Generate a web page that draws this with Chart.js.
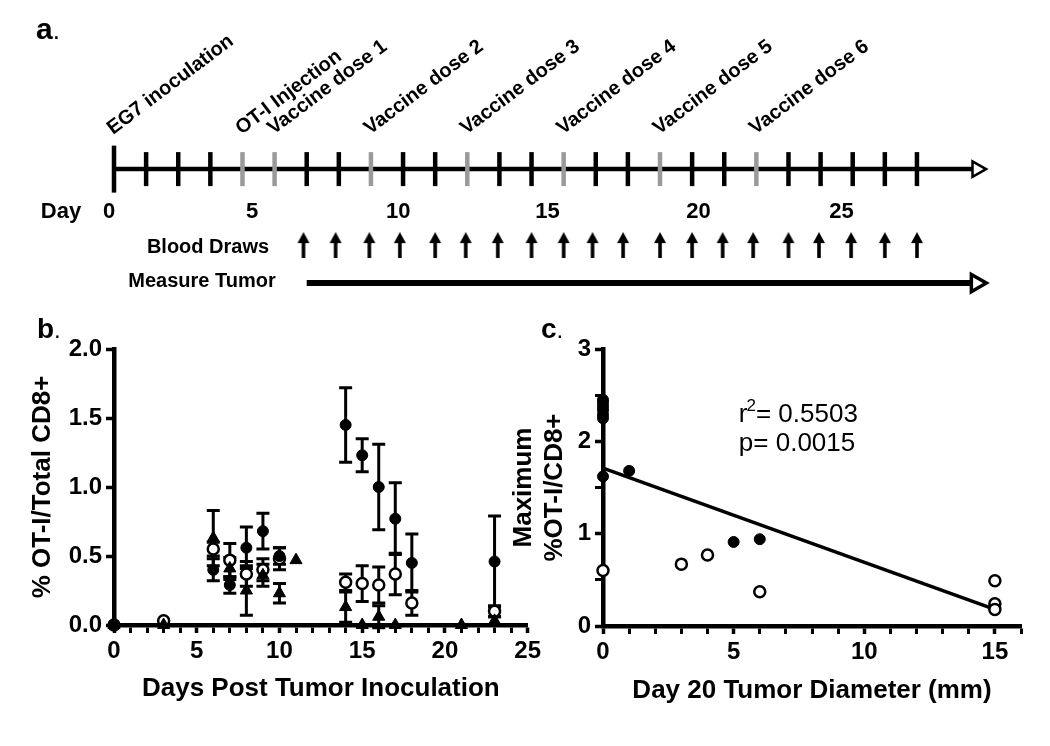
<!DOCTYPE html>
<html lang="en">
<head>
<meta charset="UTF-8" />
<title>OT-I expansion after vaccination</title>
<script src="https://cdn.jsdelivr.net/npm/chart.js"></script>
<style>
  body { margin: 0; background: #fff; }
  .fig { position: relative; width: 1050px; height: 746px; overflow: hidden; }
  .fig div { position: absolute; }
  #wrapA { left: 0; top: 0; }
  #wrapB { left: 0; top: 300px; }
  #wrapC { left: 500px; top: 300px; }
</style>
</head>
<body>
<div class="fig">
  <div id="wrapA"><canvas id="chartA" width="1050" height="304"></canvas></div>
  <div id="wrapB"><canvas id="chartB" width="545" height="446"></canvas></div>
  <div id="wrapC"><canvas id="chartC" width="550" height="446"></canvas></div>
</div>
<script>
// ---- panel a : timeline (x = schematic slot on the time line) ----
const blackTickSlots = [1, 2, 3, 6, 7, 9, 10, 12, 13, 15, 16, 18, 19, 21, 22, 23, 24, 25];
const grayTickSlots = [4, 5, 8, 11, 14, 17, 20];
const startSlot = 0;
const timelineEnd = 27.15;
const eventNames = ['EG7 inoculation', 'OT-I Injection', 'Vaccine dose 1', 'Vaccine dose 2',
  'Vaccine dose 3', 'Vaccine dose 4', 'Vaccine dose 5', 'Vaccine dose 6'];
const eventSlots = [0, 4, 5, 8, 11, 14, 17, 20];
const dayLabels = ['0', '5', '10', '15', '20', '25'];
const dayLabelSlots = [-0.15, 4.3, 8.85, 13.5, 18.2, 22.65];
const bloodDrawSlots = [5.9, 6.9, 7.95, 8.9, 10, 10.95, 11.95, 13, 14, 14.9, 15.85, 17, 18, 18.95, 19.9, 21, 21.95, 22.95, 24, 25];
const tumorStart = 6;
// rows of the timeline panel
const ROW_LINE = 0, ROW_DAY = -1.13, ROW_BLOOD = -2, ROW_TUMOR = -3;

// ---- panel b : % OT-I / total CD8+ over time ----
const filledDays = [0, 6, 7, 8, 9, 10, 14, 15, 16, 17, 18, 23];
const filledMean = [0, 0.40, 0.29, 0.56, 0.68, 0.50, 1.45, 1.23, 1.00, 0.77, 0.45, 0.46];
const filledSem  = [0, 0.08, 0.06, 0.15, 0.13, 0.06, 0.27, 0.12, 0.31, 0.26, 0.21, 0.33];

const openDays = [0, 3, 6, 7, 8, 9, 10, 14, 15, 16, 17, 18, 23];
const openMean = [0, 0.03, 0.55, 0.47, 0.37, 0.40, 0.48, 0.31, 0.30, 0.29, 0.37, 0.16, 0.10];
const openSem  = [0, 0, 0.05, 0.12, 0.09, 0.08, 0.08, 0.06, 0.13, 0.13, 0.15, 0.09, 0.04];

const triDays = [0, 3, 6, 7, 8, 9, 10, 11, 14, 15, 16, 17, 21, 23];
const triMean = [0, 0, 0.63, 0.41, 0.25, 0.36, 0.23, 0.47, 0.13, 0, 0.06, 0, 0, 0.03];
const triSem  = [0, 0, 0.20, 0.08, 0.18, 0.08, 0.07, 0, 0.11, 0, 0.08, 0, 0, 0.03];

const bXTicks = [0,1,2,3,4,5,6,7,8,9,10,11,12,13,14,15,16,17,18,19,20,21,22,23,24,25];
const bYTicks = [0, 0.5, 1, 1.5, 2];

// ---- panel c : maximum % OT-I vs day 20 tumour diameter ----
const cFilledX = [0, 0, 0, 0, 0, 0, 0, 1, 5, 6];
const cFilledY = [2.45, 2.42, 2.38, 2.34, 2.29, 2.25, 1.62, 1.68, 0.91, 0.94];
const cOpenX = [0, 3, 4, 6, 15, 15, 15];
const cOpenY = [0.60, 0.67, 0.77, 0.37, 0.49, 0.24, 0.18];
const fitX = [0, 15];
const fitY = [1.71, 0.18];
const rSquared = '0.5503';
const pValue = '0.0015';
const cXTicks = [0,1,2,3,4,5,6,7,8,9,10,11,12,13,14,15,16];
const cYTicks = [0, 0.5, 1, 1.5, 2, 2.5, 3];

const FONT = '"Liberation Sans", Arial, Helvetica, sans-serif';
Chart.defaults.font.family = FONT;
Chart.defaults.color = '#000';
Chart.defaults.animation = false;

function pts(xs, ys) {
  return xs.map((x, i) => ({ x: x, y: ys[i] }));
}
function rowPts(xs, row) {
  return xs.map(x => ({ x: x, y: row }));
}

// small upward arrow used as point style for blood draws
function makeArrow() {
  const c = document.createElement('canvas');
  c.width = 14; c.height = 26;
  const g = c.getContext('2d');
  g.fillStyle = '#000';
  g.beginPath();
  g.moveTo(7, 0); g.lineTo(13, 11); g.lineTo(1, 11);
  g.closePath(); g.fill();
  g.fillRect(5.2, 9, 3.6, 17);
  return c;
}

// ---------- panel a ----------
const timelineText = {
  id: 'timelineText',
  afterDraw(chart) {
    const ctx = chart.ctx;
    const x = chart.scales.x, y = chart.scales.y;
    ctx.save();
    ctx.fillStyle = '#000';
    // panel letter
    ctx.textBaseline = 'alphabetic';
    ctx.textAlign = 'left';
    ctx.font = 'bold 30px ' + FONT;
    ctx.fillText('a', 36, 39);
    const aw = ctx.measureText('a').width;
    ctx.font = '26px ' + FONT;
    ctx.fillText('.', 36 + aw, 39);

    // day numbers
    ctx.font = 'bold 22px ' + FONT;
    ctx.textAlign = 'center';
    ctx.textBaseline = 'middle';
    ctx.fillText('Day', 61, y.getPixelForValue(ROW_DAY));
    dayLabels.forEach((t, i) => {
      ctx.fillText(t, x.getPixelForValue(dayLabelSlots[i]), y.getPixelForValue(ROW_DAY));
    });

    // row names
    ctx.font = 'bold 20px ' + FONT;
    ctx.fillText('Blood Draws', 208, y.getPixelForValue(ROW_BLOOD) + 2);
    ctx.fillText('Measure Tumor', 202, y.getPixelForValue(ROW_TUMOR) - 2);

    // slanted event names
    ctx.font = 'bold 20px ' + FONT;
    ctx.textAlign = 'left';
    ctx.textBaseline = 'alphabetic';
    eventNames.forEach((t, i) => {
      ctx.save();
      ctx.translate(x.getPixelForValue(eventSlots[i]) - 1, 135);
      ctx.rotate(-37 * Math.PI / 180);
      ctx.fillText(t, 0, 0);
      ctx.restore();
    });
    ctx.restore();
  }
};

new Chart(document.getElementById('chartA'), {
  type: 'scatter',
  data: {
    datasets: [
      { type: 'line', data: [{ x: startSlot, y: ROW_LINE }, { x: timelineEnd - 0.3, y: ROW_LINE }],
        borderColor: '#000', borderWidth: 4.5, pointRadius: 0, clip: false, order: 5 },
      { data: rowPts([startSlot], ROW_LINE), pointStyle: 'line', rotation: 90, radius: 23.5,
        borderColor: '#000', borderWidth: 4.5, clip: false, order: 4 },
      { data: rowPts(blackTickSlots, ROW_LINE), pointStyle: 'line', rotation: 90, radius: 17,
        borderColor: '#000', borderWidth: 4.5, clip: false, order: 4 },
      { data: rowPts(grayTickSlots, ROW_LINE), pointStyle: 'line', rotation: 90, radius: 17,
        borderColor: '#9a9a9a', borderWidth: 4.5, clip: false, order: 4 },
      { data: rowPts([timelineEnd - 0.28], ROW_LINE), pointStyle: 'triangle', rotation: 90, radius: 9,
        borderColor: '#000', backgroundColor: '#fff', borderWidth: 2.5, clip: false, order: 1 },
      { data: rowPts(bloodDrawSlots, ROW_BLOOD), pointStyle: makeArrow(), radius: 5, clip: false, order: 3 },
      { type: 'line', data: [{ x: tumorStart, y: ROW_TUMOR }, { x: timelineEnd - 0.3, y: ROW_TUMOR }],
        borderColor: '#000', borderWidth: 6, pointRadius: 0, clip: false, order: 5 },
      { data: rowPts([timelineEnd - 0.3], ROW_TUMOR), pointStyle: 'triangle', rotation: 90, radius: 10,
        borderColor: '#000', backgroundColor: '#fff', borderWidth: 3.5, clip: false, order: 1 }
    ]
  },
  options: {
    responsive: false,
    layout: { autoPadding: false, padding: { left: 114, right: 64, top: 0, bottom: 0 } },
    plugins: { legend: { display: false }, tooltip: { enabled: false } },
    scales: {
      x: { type: 'linear', display: false, min: 0, max: timelineEnd },
      y: { type: 'linear', display: false, min: -3.55, max: 4.45 }
    }
  },
  plugins: [timelineText]
});

// ---------- shared helpers for b and c ----------
const errorBars = {
  id: 'errorBars',
  beforeDatasetsDraw(chart) {
    const ctx = chart.ctx;
    const x = chart.scales.x, y = chart.scales.y;
    ctx.save();
    ctx.strokeStyle = '#000';
    ctx.lineWidth = 3;
    chart.data.datasets.forEach(ds => {
      if (!ds.sem) return;
      ds.data.forEach((p, j) => {
        const e = ds.sem[j];
        if (!e) return;
        const px = x.getPixelForValue(p.x);
        const top = y.getPixelForValue(p.y + e);
        const bot = y.getPixelForValue(p.y - e);
        ctx.beginPath();
        ctx.moveTo(px, top); ctx.lineTo(px, bot);
        ctx.moveTo(px - 6.5, top); ctx.lineTo(px + 6.5, top);
        ctx.moveTo(px - 6.5, bot); ctx.lineTo(px + 6.5, bot);
        ctx.stroke();
      });
    });
    ctx.restore();
  }
};

function panelLetter(letter, lx, ly) {
  return {
    id: 'letter' + letter,
    afterDraw(chart) {
      const ctx = chart.ctx;
      ctx.save();
      ctx.fillStyle = '#000';
      ctx.textAlign = 'left';
      ctx.textBaseline = 'alphabetic';
      ctx.font = 'bold 28px ' + FONT;
      ctx.fillText(letter, lx, ly);
      const w = ctx.measureText(letter).width;
      ctx.font = '24px ' + FONT;
      ctx.fillText('.', lx + w, ly);
      ctx.restore();
    }
  };
}

function axisStyle(tickValues, isMajor, fmt, title, titlePad, fitSize, horizontal) {
  return {
    type: 'linear',
    afterFit: s => { if (horizontal) s.height = fitSize; else s.width = fitSize; },
    afterBuildTicks: s => { s.ticks = tickValues.map(v => ({ value: v })); },
    border: { color: '#000', width: 4.5 },
    grid: { drawOnChartArea: false, drawTicks: true, tickLength: 8, tickColor: '#000',
      tickWidth: c => (c.tick && isMajor(c.tick.value)) ? 3.5 : 3 },
    ticks: {
      autoSkip: false, maxRotation: 0, padding: 4, color: '#000',
      font: { size: 24, weight: 'bold' },
      callback: v => isMajor(v) ? fmt(v) : ''
    },
    title: { display: true, text: title, color: '#000',
      font: { size: 26, weight: 'bold' }, padding: titlePad }
  };
}

// ---------- panel b ----------
const xB = axisStyle(bXTicks, v => v % 5 === 0, v => String(v),
  'Days Post Tumor Inoculation', { bottom: 42, top: 0 }, 121, true);
xB.min = 0; xB.max = 25;
const yB = axisStyle(bYTicks, v => true, v => v.toFixed(1),
  '% OT-I/Total CD8+', { top: 27, bottom: 0 }, 114, false);
yB.min = 0; yB.max = 2;

new Chart(document.getElementById('chartB'), {
  type: 'scatter',
  data: {
    datasets: [
      { label: 'filled', data: pts(filledDays, filledMean), sem: filledSem, order: 1,
        pointStyle: 'circle', radius: 5.5, backgroundColor: '#000', borderColor: '#000', borderWidth: 1, clip: false },
      { label: 'open', data: pts(openDays, openMean), sem: openSem, order: 2,
        pointStyle: 'circle', radius: 5.5, backgroundColor: '#fff', borderColor: '#000', borderWidth: 2.5, clip: false },
      { label: 'triangle', data: pts(triDays, triMean), sem: triSem, order: 0,
        pointStyle: 'triangle', radius: 7, backgroundColor: '#000', borderColor: '#000', borderWidth: 1, clip: false }
    ]
  },
  options: {
    responsive: false,
    layout: { autoPadding: false, padding: { left: 0, right: 14, top: 49, bottom: 0 } },
    plugins: { legend: { display: false }, tooltip: { enabled: false } },
    scales: { x: xB, y: yB }
  },
  plugins: [errorBars, panelLetter('b', 37, 38)]
});

// ---------- panel c ----------
const statsText = {
  id: 'statsText',
  afterDraw(chart) {
    const ctx = chart.ctx;
    const x = chart.scales.x, y = chart.scales.y;
    const sx = x.getPixelForValue(5.2);
    const sy1 = y.getPixelForValue(2.21);
    const sy2 = y.getPixelForValue(1.89);
    ctx.save();
    ctx.fillStyle = '#000';
    ctx.textAlign = 'left';
    ctx.textBaseline = 'alphabetic';
    ctx.font = '26px ' + FONT;
    ctx.fillText('r', sx, sy1);
    let w = ctx.measureText('r').width;
    ctx.font = '17px ' + FONT;
    ctx.fillText('2', sx + w - 1, sy1 - 11);
    w += ctx.measureText('2').width - 1;
    ctx.font = '26px ' + FONT;
    ctx.fillText('= ' + rSquared, sx + w, sy1);
    ctx.fillText('p= ' + pValue, sx, sy2);
    ctx.restore();
  }
};

const xC = axisStyle(cXTicks, v => v % 5 === 0, v => String(v),
  'Day 20 Tumor Diameter (mm)', { bottom: 40, top: 0 }, 120, true);
xC.min = 0; xC.max = 16;
const yC = axisStyle(cYTicks, v => Number.isInteger(v), v => String(v),
  ['Maximum', '%OT-I/CD8+'], { top: 8, bottom: 0 }, 103, false);
yC.min = 0; yC.max = 3;

new Chart(document.getElementById('chartC'), {
  type: 'scatter',
  data: {
    datasets: [
      { type: 'line', label: 'fit', data: pts(fitX, fitY), borderColor: '#000', borderWidth: 3.5,
        pointRadius: 0, clip: false, order: 3 },
      { label: 'filled', data: pts(cFilledX, cFilledY), pointStyle: 'circle', radius: 5.5,
        backgroundColor: '#000', borderColor: '#000', borderWidth: 1, clip: false, order: 1 },
      { label: 'open', data: pts(cOpenX, cOpenY), pointStyle: 'circle', radius: 5.5,
        backgroundColor: '#fff', borderColor: '#000', borderWidth: 2.5, clip: false, order: 2 }
    ]
  },
  options: {
    responsive: false,
    layout: { autoPadding: false, padding: { left: 0, right: 29, top: 49, bottom: 0 } },
    plugins: { legend: { display: false }, tooltip: { enabled: false } },
    scales: { x: xC, y: yC }
  },
  plugins: [statsText, panelLetter('c', 41, 38)]
});
</script>
</body>
</html>
